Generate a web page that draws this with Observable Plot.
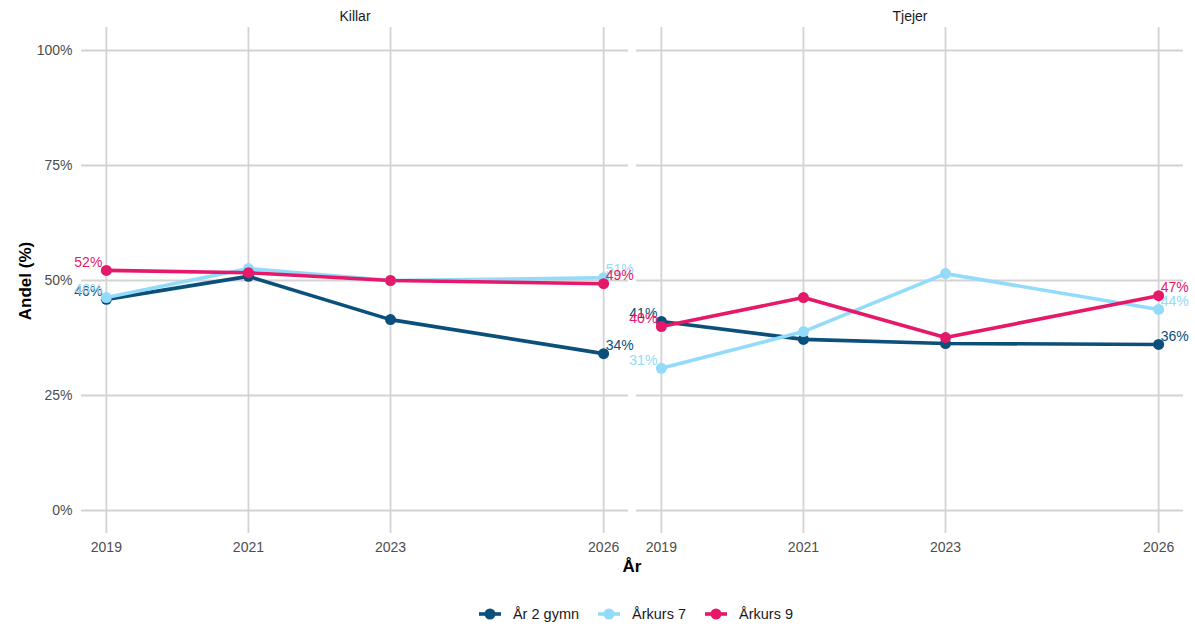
<!DOCTYPE html>
<html>
<head>
<meta charset="utf-8">
<script src="https://cdn.jsdelivr.net/npm/d3@7"></script>
<script src="https://cdn.jsdelivr.net/npm/@observablehq/plot@0.6"></script>
<style>
  html, body { margin: 0; padding: 0; background: #fff; }
  body { width: 1195px; height: 628px; font-family: "Liberation Sans", Arial, sans-serif; }
  #chart { position: relative; width: 1195px; height: 580px; }
  #legend { display: flex; justify-content: center; align-items: center; gap: 18px; margin-top: 26px; padding-left: 76px; font-size: 14.5px; color: #1a1a1a; }
  #legend .item { display: flex; align-items: center; gap: 11px; }
</style>
</head>
<body>
<div id="chart"></div>
<div id="legend"></div>
<script>
// ---- data ----
const genders = ["Killar", "Tjejer"];
const years = [2019, 2021, 2023, 2026];
const seriesNames = ["År 2 gymn", "Årkurs 7", "Årkurs 9"];
const seriesColors = ["#0b4f7b", "#93dbfa", "#e5186a"];
const killar_ar2gymn = [45.9, 50.9, 41.5, 34.1];
const killar_arkurs7 = [46.3, 52.6, 50.0, 50.6];
const killar_arkurs9 = [52.2, 51.7, 50.0, 49.3];
const tjejer_ar2gymn = [41.1, 37.2, 36.3, 36.1];
const tjejer_arkurs7 = [30.9, 38.9, 51.5, 43.7];
const tjejer_arkurs9 = [40.0, 46.3, 37.6, 46.7];
const yTicks = [0, 25, 50, 75, 100];

const table = [];
const sets = {
  Killar: [killar_ar2gymn, killar_arkurs7, killar_arkurs9],
  Tjejer: [tjejer_ar2gymn, tjejer_arkurs7, tjejer_arkurs9]
};
for (const g of genders) {
  sets[g].forEach((vals, si) => {
    vals.forEach((v, i) => table.push({gender: g, series: seriesNames[si], year: years[i], value: v}));
  });
}
const firstYear = years[0], lastYear = years[years.length - 1];
const startLabels = table.filter(d => d.year === firstYear);
const endLabels = table.filter(d => d.year === lastYear);
const fmt = d => Math.round(d.value) + "%";

const W = 1195, H = 580;
const chart = Plot.plot({
  width: W,
  height: H,
  marginLeft: 81,
  marginRight: 12,
  marginTop: 27,
  marginBottom: 47,
  style: {fontFamily: '"Liberation Sans", Arial, sans-serif', fontSize: "14px", background: "#fff"},
  fx: {domain: genders, paddingInner: 8 / 555, paddingOuter: 0, label: null, axis: null},
  x: {domain: [2018.65, 2026.35]},
  y: {domain: [-5, 105]},
  color: {domain: seriesNames, range: seriesColors},
  marks: [
    Plot.ruleY(yTicks, {y: d => d, stroke: "#d3d3d3", strokeWidth: 1.8}),
    Plot.ruleX(years, {x: d => d, stroke: "#d3d3d3", strokeWidth: 1.8}),
    Plot.text(genders, {fx: d => d, text: d => d, frameAnchor: "top", dy: -16, fontSize: 14, fill: "#1a1a1a"}),
    Plot.axisX({ticks: years, tickFormat: d => String(d), tickSize: 0, tickPadding: 9, label: null, color: "#4d4d4d", fontSize: 14}),
    Plot.axisY({ticks: yTicks, tickFormat: d => d + "%", tickSize: 0, tickPadding: 9, label: null, color: "#4d4d4d", fontSize: 14}),
    Plot.line(table, {fx: "gender", x: "year", y: "value", stroke: "series", z: "series", strokeWidth: 3.6}),
    Plot.dot(table, {fx: "gender", x: "year", y: "value", fill: "series", r: 5.5}),
    Plot.text(startLabels, {fx: "gender", x: "year", y: "value", text: fmt, fill: "series", textAnchor: "end", dx: -4, dy: -8, fontSize: 14}),
    Plot.text(endLabels, {fx: "gender", x: "year", y: "value", text: fmt, fill: "series", textAnchor: "start", dx: 2, dy: -8, fontSize: 14})
  ]
});
document.getElementById("chart").appendChild(chart);

const svg = d3.select(chart);

// axis titles
svg.append("text").attr("x", 632).attr("y", 572).attr("text-anchor", "middle")
  .attr("font-size", 17).attr("font-weight", "bold").attr("fill", "#000").text("År");
svg.append("text").attr("transform", "translate(31,281) rotate(-90)").attr("text-anchor", "middle")
  .attr("font-size", 17).attr("font-weight", "bold").attr("fill", "#000").text("Andel (%)");

// legend
const legend = d3.select("#legend");
seriesNames.forEach((name, i) => {
  const item = legend.append("div").attr("class", "item");
  const s = item.append("svg").attr("width", 24).attr("height", 14);
  s.append("line").attr("x1", 1).attr("x2", 23).attr("y1", 7).attr("y2", 7).attr("stroke", seriesColors[i]).attr("stroke-width", 3.6);
  s.append("circle").attr("cx", 12).attr("cy", 7).attr("r", 5.5).attr("fill", seriesColors[i]);
  item.append("span").text(name);
});
</script>
</body>
</html>
